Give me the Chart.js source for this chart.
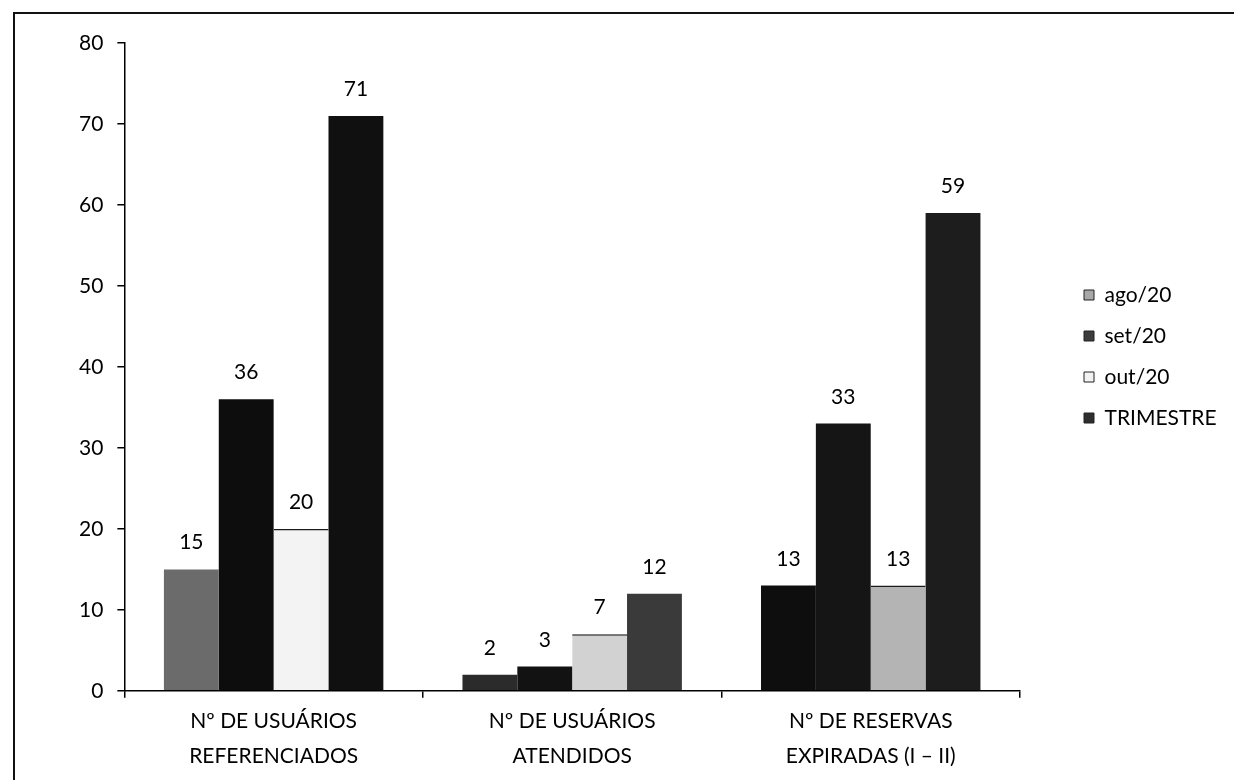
<!DOCTYPE html>
<html lang="pt-BR">
<head>
<meta charset="UTF-8">
<title>Usuários e reservas - trimestre</title>
<script src="https://cdn.jsdelivr.net/npm/chart.js@4.4.1/dist/chart.umd.min.js"></script>
<style>
  html, body { margin: 0; padding: 0; background: #fff; }
  #wrap { position: relative; width: 1234px; height: 780px; overflow: hidden; }
  #frame { position: absolute; left: 13px; top: 12px; right: -10px; bottom: -10px;
           border-left: 2px solid #111; border-top: 2px solid #111; }
  canvas { position: absolute; left: 0; top: 0; }
</style>
</head>
<body>
<div id="wrap">
  <div id="frame"></div>
  <canvas id="trimestre--canva" width="1234" height="780"></canvas>
</div>
<script>
const categories = [
  ["Nº DE USUÁRIOS", "REFERENCIADOS"],
  ["Nº DE USUÁRIOS", "ATENDIDOS"],
  ["Nº DE RESERVAS", "EXPIRADAS (I – II)"],
];
const seriesLabels = ["ago/20", "set/20", "out/20", "TRIMESTRE"];
const agoValues = [15, 2, 13];
const setValues = [36, 3, 33];
const outValues = [20, 7, 13];
const trimestreValues = [71, 12, 59];
const yMin = 0;
const yMax = 80;
const yStep = 10;

// scanned look: colours differ a bit per bar
const barColors = [
  ["#6b6b6b", "#2b2b2b", "#0e0e0e"],
  ["#0d0d0d", "#121212", "#151515"],
  ["#f3f3f3", "#d2d2d2", "#b4b4b4"],
  ["#101010", "#3a3a3a", "#1d1d1d"],
];
const legendColors = ["#a8a8a8", "#3c3c3c", "#f2f2f2", "#2e2e2e"];

const fontFamily = "Lato, 'Open Sans', 'DejaVu Sans', sans-serif";
const fontSize = 21;

const valueLabels = {
  id: "valueLabels",
  afterDatasetsDraw(chart) {
    const ctx = chart.ctx;
    ctx.save();
    ctx.font = `${fontSize}px ${fontFamily}`;
    ctx.fillStyle = "#000";
    ctx.textAlign = "center";
    ctx.textBaseline = "alphabetic";
    chart.data.datasets.forEach((ds, i) => {
      chart.getDatasetMeta(i).data.forEach((bar, idx) => {
        ctx.fillText(String(ds.data[idx]), bar.x, bar.y - 20);
      });
    });
    ctx.restore();
  },
};

const legendPlace = {
  id: "legendPlace",
  beforeInit(chart) {
    const lg = chart.legend;
    const fit = lg.fit.bind(lg);
    lg.fit = function () {
      fit();
      this.width = 204;
    };
  },
  afterLayout(chart) {
    const lg = chart.legend;
    lg.left += 44;
    lg.right += 44;
    lg.top -= 55;
    lg.bottom -= 55;
  },
};

const datasets = [agoValues, setValues, outValues, trimestreValues].map((values, i) => ({
  label: seriesLabels[i],
  data: values,
  backgroundColor: barColors[i],
  borderColor: "#1a1a1a",
  borderWidth: i === 2 ? { top: 1.5, left: 0, right: 0, bottom: 0 } : 0,
  borderSkipped: false,
  categoryPercentage: 0.735,
  barPercentage: 1,
}));

const ctx = document.querySelector("#trimestre--canva").getContext("2d");

new Chart(ctx, {
  type: "bar",
  data: { labels: categories, datasets },
  options: {
    responsive: false,
    animation: false,
    layout: { padding: { left: 65, right: 10, top: 43, bottom: 0 } },
    scales: {
      x: {
        grid: { display: true, offset: true, drawOnChartArea: false, tickLength: 7, color: "#000", lineWidth: 1.5 },
        border: { display: true, color: "#000", width: 1.5 },
        ticks: { color: "#000", font: { family: fontFamily, size: fontSize, lineHeight: 1.67 }, padding: 6, maxRotation: 0 },
      },
      y: {
        min: yMin,
        max: yMax,
        grid: { display: true, drawOnChartArea: false, tickLength: 7, color: "#000", lineWidth: 1.5 },
        border: { display: true, color: "#000", width: 1.5 },
        ticks: { stepSize: yStep, color: "#000", font: { family: fontFamily, size: fontSize }, padding: 14 },
      },
    },
    plugins: {
      legend: {
        display: true,
        position: "right",
        align: "center",
        labels: {
          color: "#000",
          font: { family: fontFamily, size: fontSize },
          boxWidth: 10,
          boxHeight: 10,
          padding: 20,
          generateLabels: (chart) =>
            chart.data.datasets.map((ds, i) => ({
              text: ds.label,
              fillStyle: legendColors[i],
              strokeStyle: "#222",
              lineWidth: 1,
              hidden: false,
              datasetIndex: i,
            })),
        },
      },
      tooltip: { enabled: false },
    },
  },
  plugins: [valueLabels, legendPlace],
});
</script>
</body>
</html>
